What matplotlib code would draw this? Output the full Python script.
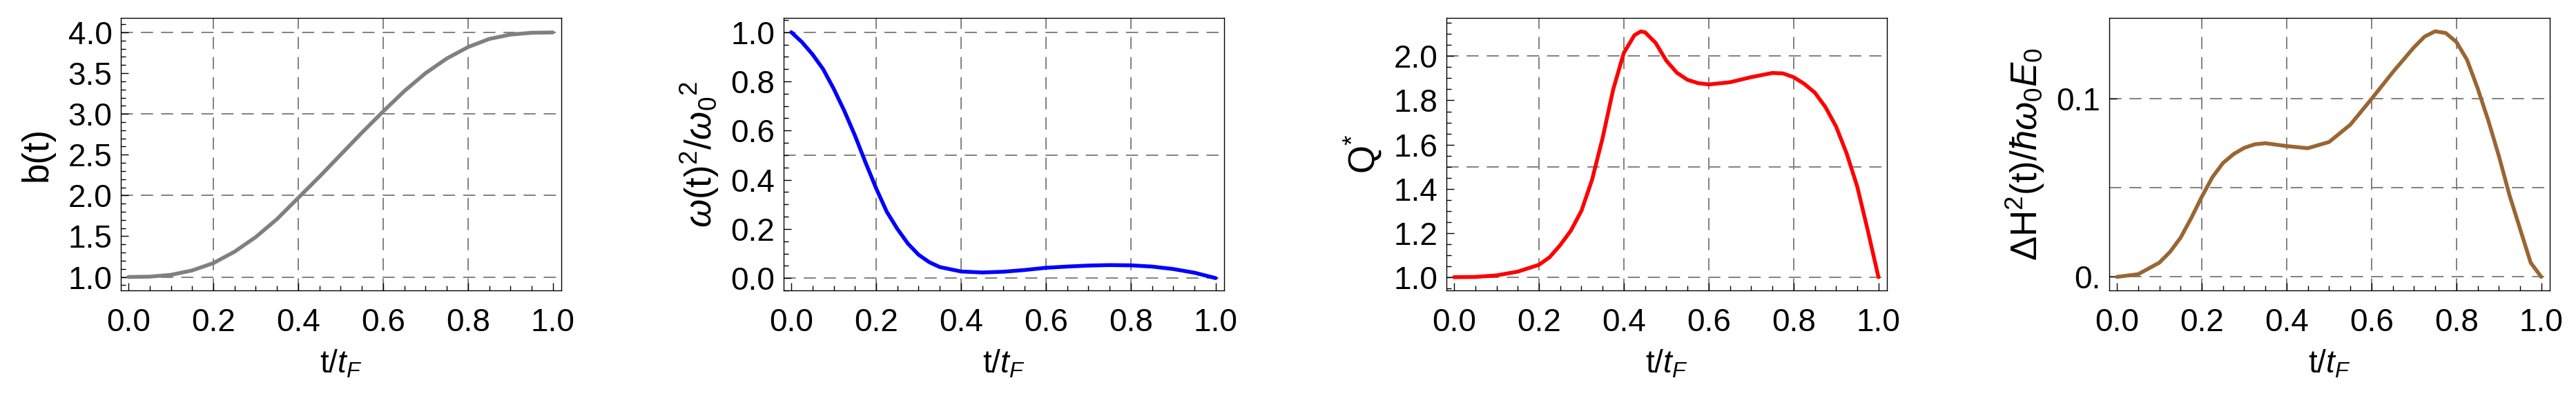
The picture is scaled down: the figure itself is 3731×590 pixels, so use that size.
import matplotlib
matplotlib.use("Agg")
import matplotlib.pyplot as plt
from matplotlib.ticker import MultipleLocator

plt.rcParams['font.family'] = ['Liberation Sans', 'DejaVu Sans']
plt.rcParams['mathtext.fontset'] = 'custom'
plt.rcParams['mathtext.rm'] = 'Liberation Sans'
plt.rcParams['mathtext.it'] = 'Liberation Sans:italic'

# ---- data ----
t_b = [0, .05, .1, .15, .2, .25, .3, .35, .4, .45, .5, .55, .6, .65, .7, .75, .8, .85, .9, .95, 1.0]
b_vals = [1.0, 1.004, 1.026, 1.08, 1.17, 1.31, 1.49, 1.71, 1.97, 2.23, 2.5, 2.77, 3.03, 3.28, 3.50, 3.68, 3.82, 3.92, 3.974, 3.996, 4.0]

t_w = [0, .025, .05, .075, .1, .125, .15, .175, .2, .225, .25, .275, .3, .325, .35, .4, .45, .5, .55, .6, .65, .7, .75, .8, .85, .9, .95, 1.0]
w_vals = [1.0, 0.96, 0.91, 0.85, 0.77, 0.68, 0.58, 0.47, 0.365, 0.27, 0.2, 0.14, 0.095, 0.065, 0.045, 0.027, 0.023, 0.026, 0.033, 0.042, 0.047, 0.051, 0.053, 0.052, 0.047, 0.037, 0.022, 0.0]

t_q = [0, .05, .1, .15, .2, .225, .25, .275, .3, .325, .35, .375, .4, .425, .44, .45, .475, .5, .525, .55, .575, .6, .65, .7, .75, .775, .8, .825, .85, .875, .9, .925, .95, .975, 1.0]
q_vals = [1.0, 1.001, 1.008, 1.025, 1.056, 1.09, 1.145, 1.21, 1.30, 1.44, 1.63, 1.85, 2.015, 2.095, 2.112, 2.108, 2.06, 1.98, 1.925, 1.893, 1.878, 1.872, 1.882, 1.905, 1.924, 1.922, 1.905, 1.875, 1.835, 1.77, 1.682, 1.56, 1.41, 1.21, 1.0]

t_h = [0, .05, .1, .125, .15, .175, .2, .225, .25, .275, .3, .325, .35, .4, .45, .5, .55, .6, .65, .7, .725, .75, .775, .8, .825, .85, .875, .9, .925, .95, .975, 1.0]
h_vals = [0.0, 0.0015, 0.008, 0.014, 0.022, 0.033, 0.045, 0.056, 0.064, 0.069, 0.0725, 0.0745, 0.0751, 0.0735, 0.0723, 0.0758, 0.0855, 0.1, 0.115, 0.129, 0.135, 0.138, 0.137, 0.132, 0.122, 0.106, 0.088, 0.068, 0.046, 0.027, 0.008, 0.0]

xticks = [0.0, 0.2, 0.4, 0.6, 0.8, 1.0]
xlabels = ['0.0', '0.2', '0.4', '0.6', '0.8', '1.0']

fig = plt.figure(figsize=(37.31, 5.90), dpi=100)
W, H = 3731, 590
lefts = [175, 1135, 2095, 3055]
aw, top, bot = 638, 26, 421

panels = [
    (t_b, b_vals, '#808080', 'b(t)', (0.835, 4.178), [1.0, 1.5, 2.0, 2.5, 3.0, 3.5, 4.0],
     ['1.0', '1.5', '2.0', '2.5', '3.0', '3.5', '4.0'], 0.1, [1, 2, 3, 4]),
    (t_w, w_vals, '#0000FF', r'$\omega$(t)$^2$/$\omega_0$$^2$', (-0.05, 1.058), [0, .2, .4, .6, .8, 1.0],
     ['0.0', '0.2', '0.4', '0.6', '0.8', '1.0'], 0.05, [0, 0.5, 1.0]),
    (t_q, q_vals, '#FF0000', r'Q$^{*}$', (0.94, 2.173), [1.0, 1.2, 1.4, 1.6, 1.8, 2.0],
     ['1.0', '1.2', '1.4', '1.6', '1.8', '2.0'], 0.05, [1.0, 1.5, 2.0]),
    (t_h, h_vals, '#996633', r'$\Delta$H$^2$(t)/$\hbar\omega_0 E_0$', (-0.0076, 0.1455), [0, 0.1],
     ['0.', '0.1'], None, [0, 0.05, 0.1]),
]

for (t, v, col, ylab, ylim, yt, ytl, ymin, ygrid), L in zip(panels, lefts):
    ax = fig.add_axes([L / W, 1 - bot / H, aw / W, (bot - top) / H])
    for g in [0.2, 0.4, 0.6, 0.8]:
        ax.axvline(g, color='#808080', ls=(0, (9, 6)), lw=1.4, zorder=1)
    for g in ygrid:
        ax.axhline(g, color='#808080', ls=(0, (9, 6)), lw=1.4, zorder=1)
    ax.plot(t, v, color=col, lw=4.0, zorder=3, solid_capstyle='round', solid_joinstyle='round')
    ax.set_xlim(-0.018, 1.02)
    ax.set_ylim(*ylim)
    ax.set_xticks(xticks)
    ax.set_xticklabels(xlabels)
    ax.set_yticks(yt)
    ax.set_yticklabels(ytl)
    ax.xaxis.set_minor_locator(MultipleLocator(0.05))
    if ymin:
        ax.yaxis.set_minor_locator(MultipleLocator(ymin))
    ax.tick_params(which='both', direction='in', top=False, right=False, labelsize=33)
    ax.tick_params(which='major', length=8, width=1)
    ax.tick_params(which='minor', length=5, width=1)
    ax.tick_params(axis='x', pad=18)
    ax.tick_params(axis='y', pad=9)
    for s in ax.spines.values():
        s.set_linewidth(1.0)
    ax.set_xlabel(r't/$t_F$', fontsize=33)
    ax.xaxis.set_label_coords(0.5, -0.27)
    ax.xaxis.label.set_va('center')
    ax.set_ylabel(ylab, fontsize=38)
    ax.yaxis.set_label_coords(-0.19, 0.5)
    ax.yaxis.label.set_va('center')

fig.savefig('out.png', dpi=100)
